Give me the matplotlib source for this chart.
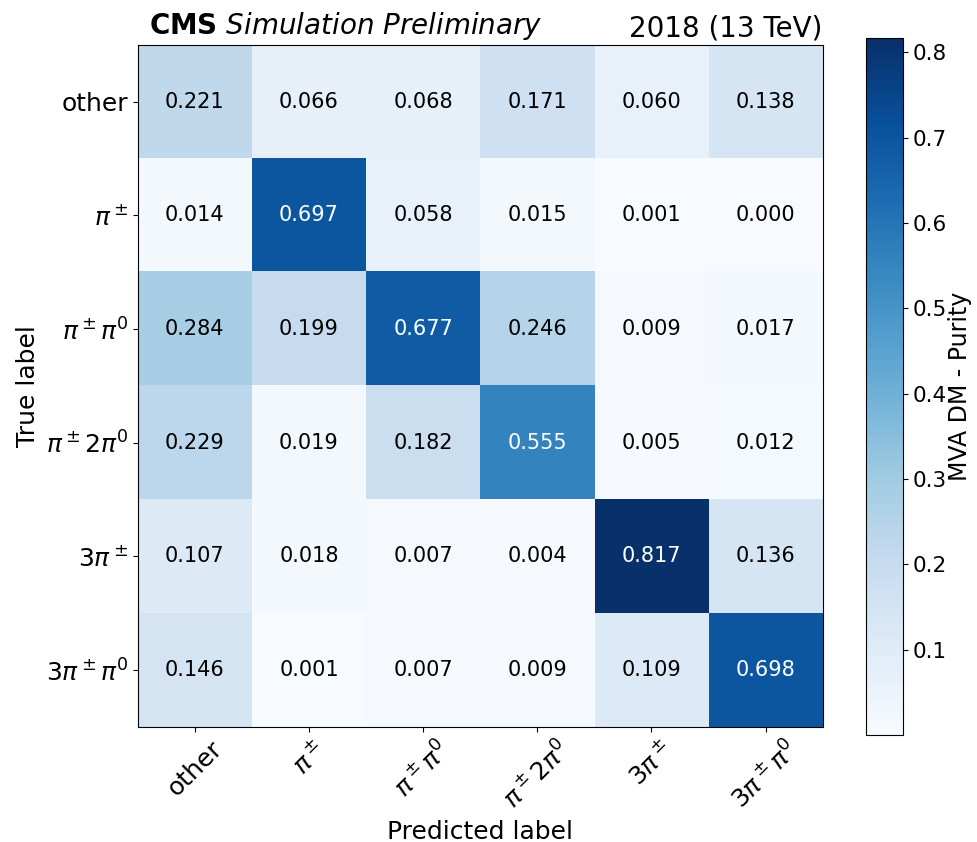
import numpy as np
import matplotlib
matplotlib.use("Agg")
import matplotlib.pyplot as plt

classes = ["other", r"$\pi^\pm$", r"$\pi^\pm\pi^0$", r"$\pi^\pm2\pi^0$",
           r"$3\pi^\pm$", r"$3\pi^\pm\pi^0$"]

row_other = [0.221, 0.066, 0.068, 0.171, 0.060, 0.138]
row_pi = [0.014, 0.697, 0.058, 0.015, 0.001, 0.000]
row_pipi0 = [0.284, 0.199, 0.677, 0.246, 0.009, 0.017]
row_pi2pi0 = [0.229, 0.019, 0.182, 0.555, 0.005, 0.012]
row_3pi = [0.107, 0.018, 0.007, 0.004, 0.817, 0.136]
row_3pipi0 = [0.146, 0.001, 0.007, 0.009, 0.109, 0.698]

cbar_ticks = [0.1, 0.2, 0.3, 0.4, 0.5, 0.6, 0.7, 0.8]

cm = np.array([row_other, row_pi, row_pipi0, row_pi2pi0, row_3pi, row_3pipi0])

fig = plt.figure(figsize=(9.77, 8.42), dpi=100)
ax = fig.add_axes([0.141, 0.1366, 0.701, 0.81])
cax = fig.add_axes([0.886, 0.127, 0.038, 0.828])

im = ax.imshow(cm, cmap="Blues", vmin=cm.min(), vmax=cm.max(), aspect="auto",
               interpolation="nearest")
cb = fig.colorbar(im, cax=cax, ticks=cbar_ticks)
cb.ax.tick_params(labelsize=15.5)
cb.set_label("MVA DM - Purity", fontsize=17, labelpad=1)

thresh = cm.max() / 2.0
for i in range(cm.shape[0]):
    for j in range(cm.shape[1]):
        ax.text(j, i, f"{cm[i, j]:.3f}", ha="center", va="center", fontsize=15,
                color="white" if cm[i, j] > thresh else "black")

ax.set_xticks(range(len(classes)))
ax.set_yticks(range(len(classes)))
ax.set_xticklabels(classes, rotation=45, fontsize=18)
ax.set_yticklabels(classes, fontsize=18)
ax.set_xlabel("Predicted label", fontsize=18)
ax.set_ylabel("True label", fontsize=18)

ax.text(0.017, 1.004, r"$\bf{CMS}$ $\it{Simulation\ Preliminary}$", transform=ax.transAxes,
        fontsize=20, ha="left", va="bottom")
ax.text(1.0, 1.004, "2018 (13 TeV)", transform=ax.transAxes, fontsize=20,
        ha="right", va="bottom")

fig.savefig("out.png", dpi=100)
